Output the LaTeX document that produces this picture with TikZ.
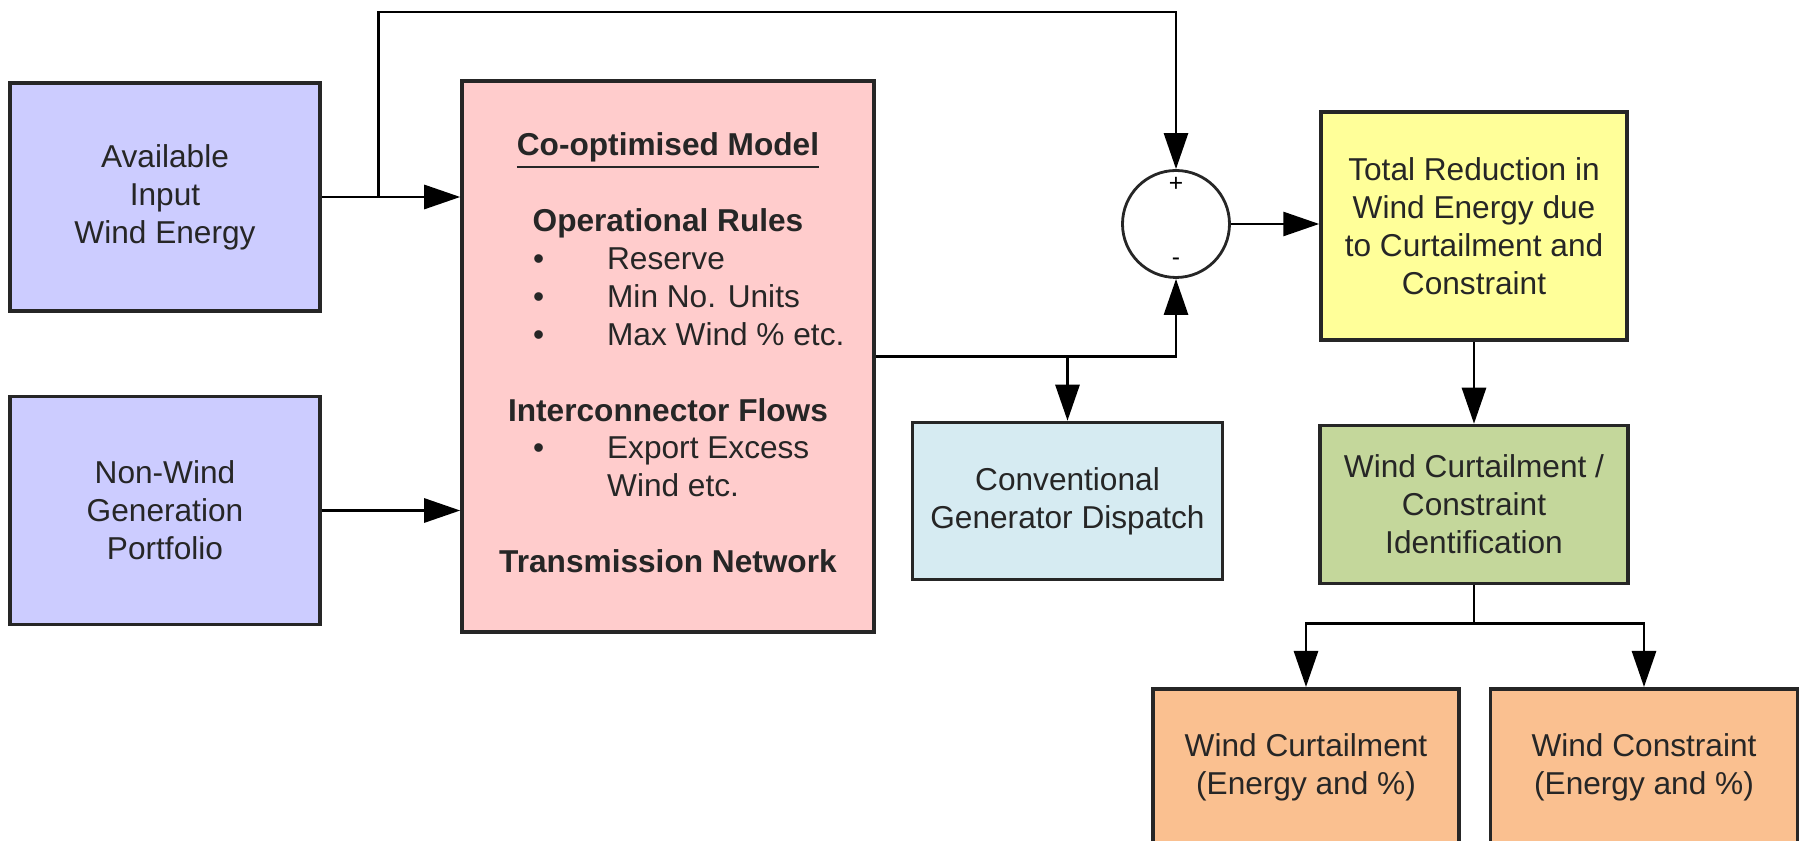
\documentclass[tikz,border=0pt]{standalone}
\usepackage{fontspec}
\setmainfont{Liberation Sans}
\usetikzlibrary{positioning, arrows.meta}
\definecolor{inblue}{HTML}{CCCCFF}
\definecolor{modelpink}{HTML}{FFCCCC}
\definecolor{totalyellow}{HTML}{FFFF99}
\definecolor{convblue}{HTML}{D6EBF2}
\definecolor{identgreen}{HTML}{C4D79B}
\definecolor{resorange}{HTML}{FAC090}

\newcommand{\modelitem}{\hspace{0.55cm}\makebox[0.74cm][l]{\textbullet}}

\tikzset{
    block/.style={draw=black!85, line width=1pt, align=center, inner sep=0pt,
        text=black!85, font=\fontsize{9}{10.8}\selectfont},
    flow/.style={-{Triangle[length=3.6mm,width=2.4mm]}, line width=0.8pt},
}

\begin{document}
\begin{tikzpicture}
    \useasboundingbox (0,0) rectangle (18.06,-8.41);
    \clip (0,0) rectangle (18.06,-8.41);

    \node[block, fill=inblue, minimum width=3.1cm, minimum height=2.28cm] (avail) at (1.65,-1.97) {Available\\Input\\Wind Energy};
    \node[block, fill=inblue, minimum width=3.1cm, minimum height=2.28cm, below=0.82cm of avail] (nonwind) {Non-Wind\\Generation\\Portfolio};
    \node[block, fill=modelpink, minimum width=4.12cm, minimum height=5.51cm] (model) at (6.68,-3.565) {%
        \begin{tabular}{@{}l@{}l@{}}
            \multicolumn{2}{c}{\textbf{\underline{Co-optimised Model}}}\\[10.8pt]
            \multicolumn{2}{c}{\textbf{Operational Rules}}\\
            \modelitem & \makebox[2cm][l]{Reserve}\\
            \modelitem & \makebox[2cm][l]{Min No. Units}\\
            \modelitem & \makebox[2cm][l]{Max Wind \% etc.}\\[10.8pt]
            \multicolumn{2}{c}{\textbf{Interconnector Flows}}\\
            \modelitem & \makebox[2cm][l]{Export Excess}\\
             & \makebox[2cm][l]{Wind etc.}\\[10.8pt]
            \multicolumn{2}{c}{\textbf{Transmission Network}}
        \end{tabular}};
    \node[draw=black!85, circle, line width=0.8pt, minimum size=1.07cm, inner sep=0pt] (sum) at (11.76,-2.24) {};
    \node[font=\fontsize{7}{8}\selectfont, inner sep=0pt] (plus) at ([yshift=-0.15cm]sum.north) {+};
    \node[font=\fontsize{7}{8}\selectfont, inner sep=0pt] (minus) at ([yshift=0.17cm]sum.south) {-};
    \node[block, fill=totalyellow, minimum width=3.06cm, minimum height=2.28cm] (total) at (14.74,-2.26) {Total Reduction in\\Wind Energy due\\to Curtailment and\\Constraint};
    \node[block, fill=convblue, minimum width=3.1cm, minimum height=1.57cm] (conv) at (10.675,-5.01) {Conventional\\Generator Dispatch};
    \node[block, fill=identgreen, minimum width=3.08cm, minimum height=1.58cm, below=0.82cm of total] (ident) {Wind Curtailment /\\Constraint\\Identification};
    \node[block, fill=resorange, minimum width=3.06cm, minimum height=1.58cm, anchor=north] (curt) at (13.06,-6.87) {Wind Curtailment\\(Energy and \%)};
    \node[block, fill=resorange, minimum width=3.07cm, minimum height=1.58cm, right=0.28cm of curt] (cons) {Wind Constraint\\(Energy and \%)};

    \coordinate[right=0.57cm of avail.east] (split);
    \coordinate (ceil) at (0,-0.12);
    \coordinate[below=0.38cm of ident.south] (fork);

    \draw[flow] (avail.east) -- (avail.east -| model.west);
    \draw[flow] (split) -- (split |- ceil) -| (sum.north);
    \draw[flow] (nonwind.east) -- (nonwind.east -| model.west);
    \draw[flow] (model.east) -| (sum.south);
    \draw[flow] (model.east -| conv.north) -- (conv.north);
    \draw[flow] (sum.east) -- (sum.east -| total.west);
    \draw[flow] (total.south) -- (ident.north);
    \draw[line width=0.8pt] (ident.south) -- (fork);
    \draw[flow] (fork) -| (curt.north);
    \draw[flow] (fork) -| (cons.north);

\end{tikzpicture}
\end{document}
